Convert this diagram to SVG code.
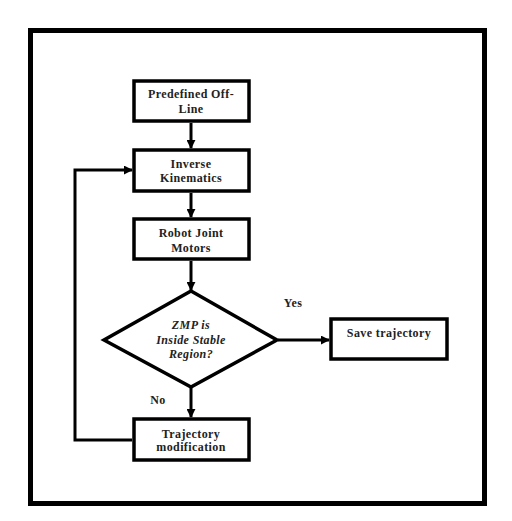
<svg xmlns="http://www.w3.org/2000/svg" width="512" height="521" viewBox="0 0 512 521">
<defs>
<style>
.box{fill:#fff;stroke:#000;stroke-width:3.5}
.t{font-family:"Liberation Serif","Times New Roman",serif;font-weight:bold;font-size:12px;text-anchor:middle;fill:#222;letter-spacing:0.4px}
.ti{font-style:italic}
.c{fill:none;stroke:#000;stroke-width:3}
</style>
<marker id="ah" viewBox="0 0 10 10" refX="9" refY="5" markerWidth="3" markerHeight="3" orient="auto" markerUnits="strokeWidth">
<path d="M0,0 L10,5 L0,10 Z" fill="#000"/>
</marker>
</defs>
<rect width="512" height="521" fill="#fff"/>
<rect x="30.5" y="30.5" width="454" height="473" fill="none" stroke="#000" stroke-width="5"/>
<g id="connectors">
<line class="c" x1="191" y1="123" x2="191" y2="148" marker-end="url(#ah)"/>
<line class="c" x1="191" y1="193" x2="191" y2="217" marker-end="url(#ah)"/>
<line class="c" x1="191" y1="261" x2="191" y2="290" marker-end="url(#ah)"/>
<line class="c" x1="278" y1="340" x2="329" y2="340" marker-end="url(#ah)"/>
<line class="c" x1="191" y1="388" x2="191" y2="417" marker-end="url(#ah)"/>
<polyline class="c" points="132,440 75,440 75,170 132,170" marker-end="url(#ah)"/>
<text class="t" x="293" y="307">Yes</text>
<text class="t" x="158" y="404">No</text>
</g>
<g id="n1">
<rect class="box" x="134" y="81" width="115" height="40"/>
<text class="t" x="191" y="98">Predefined Off-</text>
<text class="t" x="191" y="113">Line</text>
</g>
<g id="n2">
<rect class="box" x="134" y="150" width="115" height="41"/>
<text class="t" x="191" y="168">Inverse</text>
<text class="t" x="191" y="182">Kinematics</text>
</g>
<g id="n3">
<rect class="box" x="134" y="219" width="115" height="40"/>
<text class="t" x="191" y="237">Robot Joint</text>
<text class="t" x="191" y="252">Motors</text>
</g>
<g id="n4">
<polygon class="box" points="191,291 277,340 191,387 104,340"/>
<text class="t ti" x="191" y="329">ZMP is</text>
<text class="t ti" x="191" y="344">Inside Stable</text>
<text class="t ti" x="191" y="358">Region?</text>
</g>
<g id="n5">
<rect class="box" x="331" y="319" width="116" height="40"/>
<text class="t" x="389" y="337">Save trajectory</text>
</g>
<g id="n6">
<rect class="box" x="134" y="419" width="115" height="41"/>
<text class="t" x="191" y="438">Trajectory</text>
<text class="t" x="191" y="451">modification</text>
</g>
</svg>
